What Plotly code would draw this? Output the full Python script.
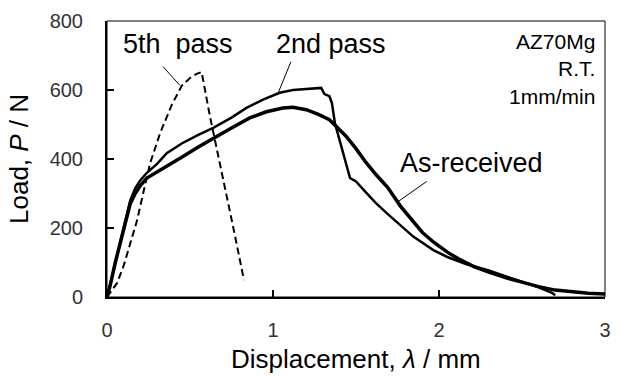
import plotly.graph_objects as go

# As-received
ar_x = [0, 0.02, 0.05, 0.08, 0.11, 0.14, 0.17, 0.2, 0.24, 0.3, 0.36, 0.45, 0.55, 0.64, 0.75, 0.86, 0.96,
        1.06, 1.12, 1.2, 1.27, 1.34, 1.44, 1.5, 1.56, 1.62, 1.69, 1.77, 1.84, 1.9, 1.97, 2.05, 2.12,
        2.21, 2.3, 2.4, 2.5, 2.6, 2.7, 2.8, 2.9, 3.0]
ar_y = [0, 35, 100, 160, 220, 270, 300, 322, 345, 362, 378, 405, 435, 461, 490, 519, 537,
        548, 550, 543, 530, 514, 466, 430, 390, 355, 318, 262, 222, 187, 158, 130, 110,
        88, 72, 56, 43, 30, 20, 15, 11, 9]

# 2nd pass
p2_x = [0, 0.02, 0.05, 0.08, 0.11, 0.14, 0.17, 0.2, 0.24, 0.3, 0.36, 0.45, 0.55, 0.64, 0.75, 0.84,
        0.94, 1.04, 1.12, 1.2, 1.24, 1.29, 1.31, 1.34, 1.355, 1.373, 1.464, 1.5, 1.564, 1.62,
        1.685, 1.76, 1.845, 1.966, 2.05, 2.167, 2.3, 2.4, 2.5, 2.6, 2.68, 2.7]
p2_y = [0, 40, 105, 165, 225, 280, 315, 338, 360, 385, 417, 445, 470, 490, 520, 548,
        572, 592, 600, 603, 606, 606, 588, 582, 562, 504, 345, 335, 301, 272,
        243, 210, 175, 136, 116, 95, 77, 60, 45, 28, 12, 5]

# 5th pass
p5_x = [0, 0.06, 0.1, 0.14, 0.18, 0.22, 0.26, 0.32, 0.39, 0.45, 0.5, 0.54, 0.57,
        0.62, 0.67, 0.72, 0.77, 0.825]
p5_y = [0, 40, 90, 152, 220, 305, 388, 475, 557, 612, 635, 647, 652,
        524, 412, 301, 180, 49]

x_ticks = [0, 1, 2, 3]
y_ticks = [0, 200, 400, 600, 800]

FONT = "Liberation Sans, Arial, sans-serif"

fig = go.Figure()
fig.add_trace(go.Scatter(x=p5_x, y=p5_y, mode="lines",
                         line=dict(color="black", width=2, dash="7px,4px")))
fig.add_trace(go.Scatter(x=p2_x, y=p2_y, mode="lines",
                         line=dict(color="black", width=2.5)))
fig.add_trace(go.Scatter(x=ar_x, y=ar_y, mode="lines",
                         line=dict(color="black", width=3.5)))

axis_common = dict(showgrid=False, zeroline=False, showline=True, linecolor="black",
                   linewidth=2, ticks="inside", ticklen=7, tickwidth=1.5, tickcolor="black",
                   tickfont=dict(family=FONT, size=20, color="#333333"),
                   automargin=False)
fig.update_xaxes(range=[0, 3], tickvals=x_ticks, ticktext=[str(v) for v in x_ticks],
                 ticklabelstandoff=14, **axis_common)
fig.update_yaxes(range=[0, 800], tickvals=y_ticks, ticktext=[str(v) for v in y_ticks],
                 ticklabelstandoff=18, **axis_common)

# frame
fig.add_shape(type="rect", xref="paper", yref="paper", x0=0, y0=0, x1=1, y1=1,
              line=dict(color="black", width=1))

# leader lines
for (xa, ya, xb, yb) in [(0.337, 668, 0.44, 613), (1.108, 682, 1.03, 590), (1.926, 335, 1.755, 277)]:
    fig.add_shape(type="line", x0=xa, y0=ya, x1=xb, y1=yb, line=dict(color="black", width=1))

lab_font = dict(family=FONT, size=27, color="black")
fig.add_annotation(x=0.428, y=732, text="5th  pass", showarrow=False, font=lab_font)
fig.add_annotation(x=1.349, y=732, text="2nd pass", showarrow=False, font=lab_font)
fig.add_annotation(x=2.197, y=389, text="As-received", showarrow=False, font=lab_font)

corner_font = dict(family=FONT, size=21, color="black")
fig.add_annotation(xref="paper", yref="paper", x=0.984, y=0.975, xanchor="right", yanchor="top",
                   text="AZ70Mg<br>R.T.<br>1mm/min", align="right", showarrow=False,
                   font=corner_font)

# axis titles
fig.add_annotation(xref="paper", yref="paper", x=0.5, y=0, yshift=-62, xanchor="center",
                   yanchor="middle", text="Displacement, <i>λ</i> / mm", showarrow=False,
                   font=dict(family=FONT, size=26, color="black"))
fig.add_annotation(xref="paper", yref="paper", x=0, y=0.5, xshift=-88, xanchor="center",
                   yanchor="middle", text="Load, <i>P</i> / N", textangle=-90, showarrow=False,
                   font=dict(family=FONT, size=26, color="black"))

fig.update_layout(width=620, height=376, margin=dict(l=107, r=15, t=21, b=79),
                  plot_bgcolor="white", paper_bgcolor="white", showlegend=False)

fig.write_html("out.html", config={"displayModeBar": False},
               post_script="document.body.style.margin='0';document.body.style.overflow='hidden';")
